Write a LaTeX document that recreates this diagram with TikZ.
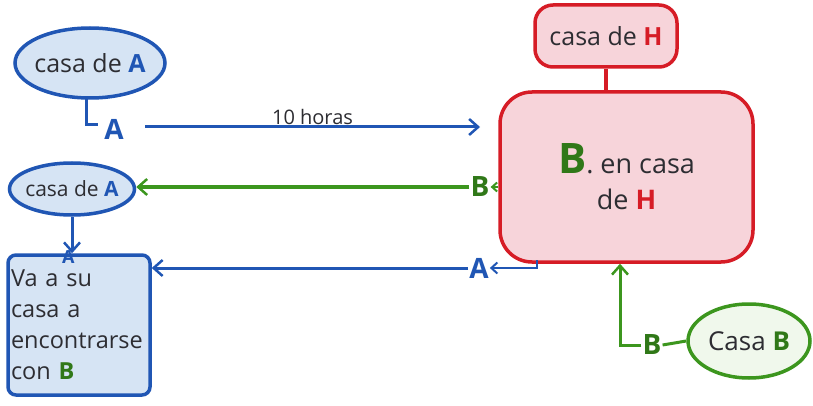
\documentclass[tikz,border=0pt]{standalone}
\usepackage{fontspec}
\setmainfont{Open Sans}
\usetikzlibrary{arrows.meta,shapes.geometric,calc}
\definecolor{pblue}{RGB}{32,86,180}
\definecolor{pbluefill}{RGB}{214,228,244}
\definecolor{pred}{RGB}{214,28,38}
\definecolor{predfill}{RGB}{247,212,218}
\definecolor{pgreen}{RGB}{60,150,30}
\definecolor{pgreenfill}{RGB}{240,248,236}
\definecolor{ink}{RGB}{45,45,50}
\tikzset{
  x=1pt,y=-1pt,
  txt/.style={text=ink,font=\fontsize{25}{29}\selectfont},
  blueell/.style={ellipse,draw=pblue,line width=3.5pt,fill=pbluefill,inner ysep=1pt,inner xsep=-4pt,txt},
  redbox/.style={rounded corners=18pt,draw=pred,line width=3.5pt,fill=predfill,txt},
  bluearrow/.style={draw=pblue,line width=3pt,-{Straight Barb[length=9pt,width=16pt,line width=2.5pt]}},
  greenarrow/.style={draw=pgreen,line width=3pt,-{Straight Barb[length=9pt,width=16pt,line width=2.5pt]}},
  lblA/.style={text=pblue,font=\bfseries\fontsize{28}{30}\selectfont,inner sep=1pt},
  lblB/.style={text=pgreen!80!black,font=\bfseries\fontsize{28}{30}\selectfont,inner sep=1pt},
}
\newcommand{\bA}{\textcolor{pblue}{\bfseries A}}
\newcommand{\bB}{\textcolor{pgreen!80!black}{\bfseries B}}
\newcommand{\bH}{\textcolor{pred}{\bfseries H}}
\begin{document}
\begin{tikzpicture}
\useasboundingbox[fill=white] (0,0) rectangle (813,406);
% nodes
\node[blueell,minimum width=150pt,minimum height=70pt] (casaA1) at (90,63) {casa de \bA};
\node[lblA] (LA) at (114,129) {A};
\node[redbox,minimum width=142pt,minimum height=62pt,inner sep=1pt] (casaH) at (606,36) {casa de \bH};
\node[redbox,rounded corners=32pt,minimum width=253pt,minimum height=170pt,align=center,font=\fontsize{27}{36}\selectfont] (big) at (626.5,177) {\textcolor{pgreen!80!black}{\bfseries\fontsize{42}{36}\selectfont B}. en casa\\de \bH};
\node[lblB] (B1) at (480,187) {B};
\node[blueell,minimum width=125pt,minimum height=52pt,font=\fontsize{21}{24}\selectfont] (casaA2) at (72,189) {casa de \bA};
\node[rectangle,rounded corners=8pt,draw=pblue,line width=3.5pt,fill=pbluefill,txt,minimum width=142pt,minimum height=140pt,text width=136pt,inner sep=2pt,align=left,font=\fontsize{23.5}{31}\selectfont] (va) at (79,325) {Va a su\\casa a\\encontrarse\\con \bB};
\node[lblA] (A2) at (479,268) {A};
\node[lblB] (B2) at (652,345) {B};
\node[ellipse,draw=pgreen,line width=3.5pt,fill=pgreenfill,txt,inner sep=1pt,minimum width=122pt,minimum height=74pt,font=\fontsize{26}{30}\selectfont] (casaB) at (749,341) {Casa \bB};
\coordinate (elb) at (537,260);
\coordinate (bup) at (620,345);
% connectors
\draw[pblue,line width=3pt] (86,98) -- (86,125) -- (98,125);
\draw[bluearrow] (145,127) -- node[above,txt,font=\fontsize{20}{22}\selectfont,inner sep=1pt]{10 horas} (480,127);
\draw[pred,line width=3.5pt] (casaH.south) -- (casaH.south |- big.north);
\draw[greenarrow,-{Straight Barb[length=5pt,width=9pt,line width=2pt]},line width=2pt] (big.west |- B1) -- (B1.east);
\draw[greenarrow] (B1.west) -- (casaA2.east |- B1);
\draw[bluearrow] (casaA2.south) -- node[pos=1,below left,xshift=5pt,yshift=5pt,lblA,font=\bfseries\fontsize{18}{20}\selectfont]{A} (va.north -| casaA2.south);
\draw[bluearrow,-{Straight Barb[length=6pt,width=11pt,line width=2pt]},line width=2pt] (elb) -- (elb |- A2) -- (A2.east);
\draw[bluearrow] (A2.west) -- (va.east |- A2);
\draw[greenarrow] (B2.west) -- (bup) -- (bup |- big.south);
\draw[pgreen,line width=3pt] (B2.east) -- (casaB.west);
\end{tikzpicture}
\end{document}
